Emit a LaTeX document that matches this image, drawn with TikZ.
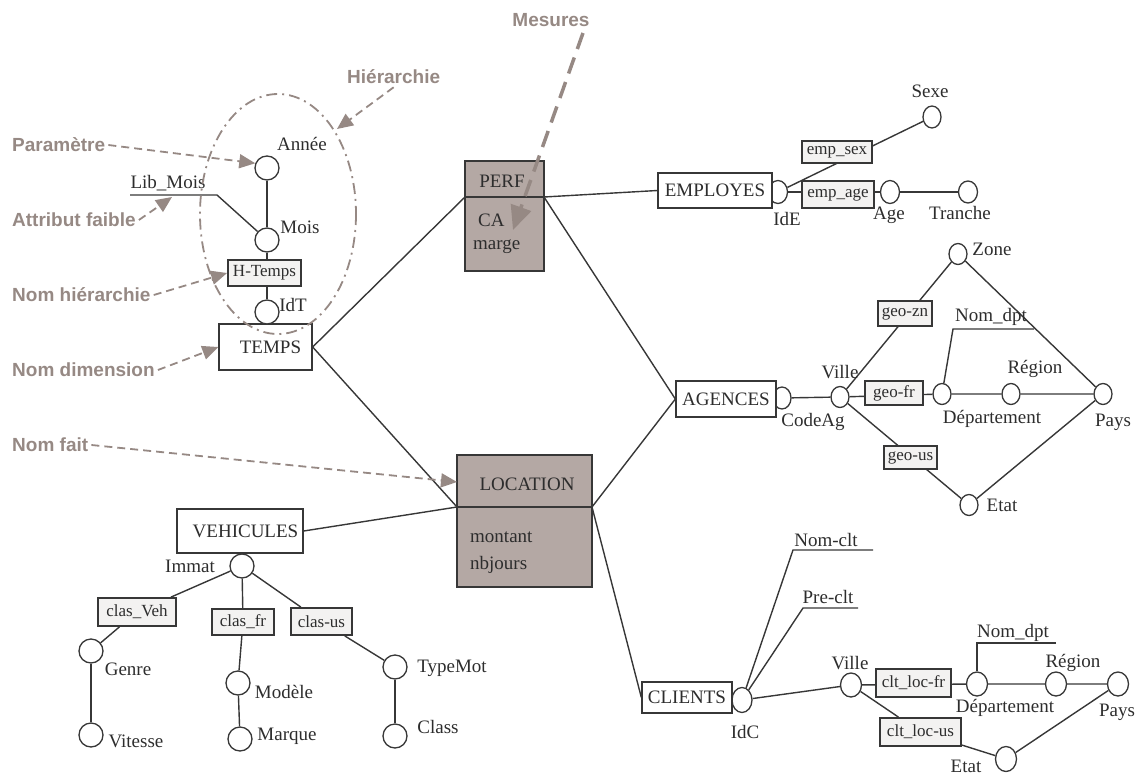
\documentclass[tikz,border=0pt]{standalone}
\usepackage{fontspec}
\setmainfont{Liberation Serif}
\newfontfamily\annofont{Liberation Sans}
\usetikzlibrary{shapes.geometric,arrows.meta}
\definecolor{linec}{RGB}{55,55,55}
\definecolor{textc}{RGB}{45,45,45}
\definecolor{annoc}{RGB}{150,137,132}
\definecolor{factc}{RGB}{180,168,164}
\definecolor{lblc}{RGB}{243,242,241}
\pgfdeclarelayer{bg}
\pgfsetlayers{bg,main}
\begin{document}
\begin{tikzpicture}[x=1pt,y=-1pt,
  conn/.style={draw=linec, line width=1.4pt},
  att/.style 2 args={ellipse, draw=linec, fill=white, line width=1.3pt, inner sep=0pt, minimum width=#1, minimum height=#2},
  dimbox/.style={rectangle, draw=linec, fill=white, line width=1.3pt, inner sep=0pt, font=\fontsize{19}{22}\selectfont, text=textc},
  hbox/.style={rectangle, draw=linec, fill=lblc, line width=1.8pt, inner sep=0pt, font=\fontsize{17}{20}\selectfont, text=textc},
  factbox/.style={rectangle, draw=linec, fill=factc, line width=1.3pt, inner sep=0pt},
  lbl/.style={font=\fontsize{19}{22}\selectfont, text=textc, inner sep=1pt},
  anno/.style={font=\annofont\bfseries\fontsize{19}{22}\selectfont, text=annoc, inner sep=3pt, anchor=west},
  annoarrow/.style={draw=annoc, line width=1.8pt, dash pattern=on 8pt off 5pt, -{Triangle[length=16pt,width=14pt]}},
  mesarrow/.style={draw=annoc, line width=3.5pt, dash pattern=on 17pt off 9pt, -{Triangle[length=24pt,width=21pt]}},
]
\useasboundingbox (0,0) rectangle (1136,774);

% ---------- TEMPS ----------
\node[dimbox, minimum width=93pt, minimum height=46pt] (temps) at (265.5,347) {\hspace{10pt}TEMPS};
\node[att={24pt}{24pt}] (idt) at (267,312) {};
\node[att={24pt}{24pt}] (mois) at (267,240) {};
\node[att={24pt}{24pt}] (annee) at (267,168) {};
\node[hbox, minimum width=73pt, minimum height=26pt] (htemps) at (264.5,273) {H-Temps};
\node[lbl] (tannee) at (302,144) {Année};
\node[lbl] (tmois) at (300,227) {Mois};
\node[lbl] (tidt) at (293,305) {IdT};
\node[lbl] (tlibmois) at (168,183) {Lib\_Mois};
\coordinate (lm1) at (130,195);
\coordinate (lm2) at (217,195);
\coordinate (lmtip) at (172,197);

% ---------- PERF ----------
\node[factbox, minimum width=79pt, minimum height=110pt] (perf) at (504.5,216) {};
\coordinate (perfL) at (465,197);
\coordinate (perfR) at (544,197);
\node[lbl] (tperf) at (502,181) {PERF};
\node[lbl, anchor=west] (tca) at (477,220) {CA};
\node[lbl, anchor=west] (tmarge) at (472,247) {marge};

% ---------- EMPLOYES ----------
\node[att={19pt}{23pt}] (ide) at (778,192) {};
\node[dimbox, minimum width=114pt, minimum height=35pt] (employes) at (715,190.5) {EMPLOYES};
\node[lbl] (tide) at (787,219) {IdE};
\node[hbox, minimum width=70pt, minimum height=22pt] (empsex) at (837,152) {emp\_sex};
\node[hbox, minimum width=72pt, minimum height=27pt] (empage) at (838,194.5) {emp\_age};
\node[att={18pt}{22pt}] (sexe) at (932,117) {};
\node[lbl] (tsexe) at (930,91) {Sexe};
\node[att={19pt}{23pt}] (age) at (890,192) {};
\node[lbl] (tage) at (889,215) {Age};
\node[att={19pt}{22pt}] (tranche) at (968,192) {};
\node[lbl] (ttranche) at (960,213) {Tranche};

% ---------- AGENCES ----------
\node[att={18pt}{22pt}] (codeag) at (782,398) {};
\node[dimbox, minimum width=100pt, minimum height=36pt] (agences) at (726,399) {AGENCES};
\node[lbl] (tcodeag) at (813,422) {CodeAg};
\node[att={18pt}{21pt}] (ville) at (840,397) {};
\node[lbl] (tville) at (840,372) {Ville};
\node[hbox, minimum width=58pt, minimum height=24pt] (geofr) at (894,393) {geo-fr};
\node[att={18pt}{21pt}] (dept) at (942,394) {};
\node[lbl] (tdept) at (992,419) {Département};
\node[att={18pt}{21pt}] (region) at (1011,394) {};
\node[lbl] (tregion) at (1035,369) {Région};
\node[att={18pt}{21pt}] (pays) at (1103,394) {};
\node[lbl] (tpays) at (1113,422) {Pays};
\node[att={18pt}{21pt}] (zone) at (958,254) {};
\node[lbl] (tzone) at (992,249) {Zone};
\node[att={18pt}{21pt}] (etat) at (969,505) {};
\node[lbl] (tetat) at (1002,505) {Etat};
\node[hbox, minimum width=54pt, minimum height=25pt] (geozn) at (905,313.5) {geo-zn};
\node[hbox, minimum width=53pt, minimum height=23pt] (geous) at (910.5,457.5) {geo-us};
\node[lbl] (tnomdpt) at (991,317) {Nom\_dpt};
\coordinate (nd1) at (953,329);
\coordinate (nd2) at (1034,329);

% ---------- LOCATION ----------
\node[factbox, minimum width=135pt, minimum height=132pt] (location) at (524.5,521) {};
\coordinate (locL) at (457,507);
\coordinate (locR) at (592,507);
\node[lbl] (tlocation) at (527,484) {LOCATION};
\node[lbl, anchor=west] (tmontant) at (469,537) {montant};
\node[lbl, anchor=west] (tnbjours) at (469,565) {nbjours};
\coordinate (loctip) at (457,482);

% ---------- VEHICULES ----------
\node[dimbox, minimum width=126pt, minimum height=44pt] (vehicules) at (240,531) {\hspace{11pt}VEHICULES};
\node[att={24pt}{24pt}] (immat) at (242,566) {};
\node[lbl] (timmat) at (190,566) {Immat};
\node[hbox, minimum width=78pt, minimum height=28pt] (clasveh) at (137,612) {clas\_Veh};
\node[hbox, minimum width=62pt, minimum height=26pt] (clasfr) at (243,622) {clas\_fr};
\node[hbox, minimum width=61pt, minimum height=27pt] (clasus) at (321.5,621.5) {clas-us};
\node[att={24pt}{24pt}] (genre) at (91,651) {};
\node[lbl] (tgenre) at (128,669) {Genre};
\node[att={24pt}{24pt}] (vitesse) at (91,735) {};
\node[lbl] (tvitesse) at (136,741) {Vitesse};
\node[att={24pt}{24pt}] (modele) at (238,683) {};
\node[lbl] (tmodele) at (284,692) {Modèle};
\node[att={24pt}{24pt}] (marque) at (240,739) {};
\node[lbl] (tmarque) at (287,736) {Marque};
\node[att={24pt}{24pt}] (typemot) at (395,667) {};
\node[lbl] (ttypemot) at (452,668) {TypeMot};
\node[att={24pt}{24pt}] (nclass) at (395,736) {};
\node[lbl] (tclass) at (438,727) {Class};

% ---------- CLIENTS ----------
\node[att={20pt}{25pt}] (idc) at (742,700) {};
\node[dimbox, minimum width=90pt, minimum height=31pt] (clients) at (687,697.5) {CLIENTS};
\node[lbl] (tidc) at (745,732) {IdC};
\node[lbl] (tnomclt) at (826,540) {Nom-clt};
\coordinate (nc1) at (793,550);
\coordinate (nc2) at (873,550);
\node[lbl] (tpreclt) at (828,597) {Pre-clt};
\coordinate (pc1) at (803,608);
\coordinate (pc2) at (858,608);
\node[att={21pt}{24pt}] (ville2) at (851,685) {};
\node[lbl] (tville2) at (850,663) {Ville};
\node[hbox, minimum width=75pt, minimum height=28pt] (cltlocfr) at (913.5,683) {clt\_loc-fr};
\node[att={21pt}{24pt}] (dept2) at (977,684) {};
\node[lbl] (tdept2) at (1005,708) {Département};
\node[lbl] (tnomdpt2) at (1013,633) {Nom\_dpt};
\coordinate (nd3) at (977,643);
\coordinate (nd4) at (1056,643);
\node[att={21pt}{24pt}] (region2) at (1056,684) {};
\node[lbl] (tregion2) at (1073,663) {Région};
\node[att={21pt}{24pt}] (pays2) at (1118,684) {};
\node[lbl] (tpays2) at (1117,712) {Pays};
\node[hbox, minimum width=81pt, minimum height=28pt] (cltlocus) at (920.5,732) {clt\_loc-us};
\node[att={21pt}{25pt}] (etat2) at (1006,759) {};
\node[lbl] (tetat2) at (966,766) {Etat};

% ---------- connectors (behind) ----------
\begin{pgfonlayer}{bg}
\draw[conn] (temps.east) -- (perfL);
\draw[conn] (temps.east) -- (locL);
\draw[conn] (perfR) -- (employes.west);
\draw[conn] (perfR) -- (agences.west);
\draw[conn] (locR) -- (agences.west);
\draw[conn] (locR) -- (clients.west);
\draw[conn] (locL) -- (vehicules.east);
% temps
\draw[conn] (annee) -- (mois);
\draw[conn] (mois) -- (idt);
\draw[conn] (lm1) -- (lm2) -- (mois);
% employes
\draw[conn] (ide) -- (sexe);
\draw[conn] (ide) -- (tranche);
% agences
\draw[conn] (codeag) -- (ville);
\draw[conn] (ville) -- (zone);
\draw[conn] (ville) -- (dept) -- (region) -- (pays);
\draw[conn] (zone) -- (pays);
\draw[conn] (ville) -- (etat);
\draw[conn] (etat) -- (pays);
\draw[conn] (nd2) -- (nd1) -- (dept);
% clients
\draw[conn] (nc2) -- (nc1) -- (idc);
\draw[conn] (pc2) -- (pc1) -- (idc);
\draw[conn] (idc) -- (ville2);
\draw[conn] (ville2) -- (dept2) -- (region2) -- (pays2);
\draw[conn] (ville2) -- (cltlocus) -- (etat2);
\draw[conn] (etat2) -- (pays2);
\draw[conn] (nd4) -- (nd3) -- (dept2);
% vehicules
\draw[conn] (immat) -- (clasveh) -- (genre);
\draw[conn] (genre) -- (vitesse);
\draw[conn] (immat) -- (clasfr) -- (modele);
\draw[conn] (modele) -- (marque);
\draw[conn] (immat) -- (clasus) -- (typemot);
\draw[conn] (typemot) -- (nclass);
\end{pgfonlayer}

% fact dividers
\draw[conn] (perfL) -- (perfR);
\draw[conn] (locL) -- (locR);

% ---------- annotations ----------
\node[anno] (ahier) at (344,77) {Hiérarchie};
\node[anno] (aparam) at (9,145) {Paramètre};
\node[anno] (aattr) at (9,220) {Attribut faible};
\node[anno] (anomh) at (9,295) {Nom hiérarchie};
\node[anno] (anomd) at (9,370) {Nom dimension};
\node[anno] (anomf) at (9,445) {Nom fait};
\node[anno, anchor=center] (ames) at (551,20) {Mesures};
\coordinate (hiertip) at (337,129);
\coordinate (messtart) at (583,33);
\coordinate (mestip) at (513,230);

\draw[annoarrow] (ahier.south) -- (hiertip);
\draw[annoarrow] (aparam.east) -- (annee.158);
\draw[annoarrow] (aattr.east) -- (lmtip);
\draw[annoarrow] (anomh.east) -- (htemps.west);
\draw[annoarrow] (anomd.east) -- (temps.west);
\draw[annoarrow] (anomf.east) -- (loctip);
\draw[mesarrow] (messtart) -- (mestip);

\draw[draw=annoc, line width=1.8pt, dash pattern=on 11pt off 5pt on 2pt off 5pt] (278,214) ellipse [x radius=78, y radius=120];
\end{tikzpicture}
\end{document}
